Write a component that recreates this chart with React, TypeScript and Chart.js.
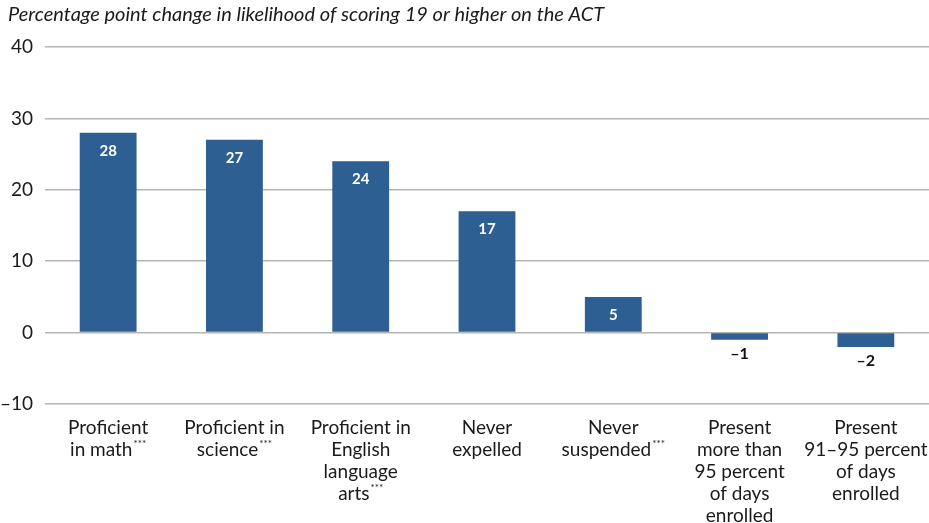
import React, { useEffect, useRef } from "react";
import { Chart, registerables } from "chart.js";

Chart.register(...registerables);

const TITLE = "Percentage point change in likelihood of scoring 19 or higher on the ACT";
const CATEGORY_LINES: string[][] = [
  ["Proficient", "in math"],
  ["Proficient in", "science"],
  ["Proficient in", "English", "language", "arts"],
  ["Never", "expelled"],
  ["Never", "suspended"],
  ["Present", "more than", "95 percent", "of days", "enrolled"],
  ["Present", "91\u201395 percent", "of days", "enrolled"],
];
const SIGNIFICANT: boolean[] = [true, true, true, false, true, false, false];
const VALUES: number[] = [28, 27, 24, 17, 5, -1, -2];
const VALUE_LABELS: string[] = ["28", "27", "24", "17", "5", "\u20131", "\u20132"];
const Y_MIN = -10;
const Y_MAX = 40;
const Y_STEP = 10;

const FONT = "Lato, 'Open Sans', sans-serif";
const BAR_COLOR = "#2e5f93";

const overlayPlugin = {
  id: "overlay",
  afterDatasetsDraw(chart: any) {
    const ctx = chart.ctx as CanvasRenderingContext2D;
    const meta = chart.getDatasetMeta(0);
    ctx.save();
    // value labels
    meta.data.forEach((bar: any, i: number) => {
      const v = VALUES[i];
      ctx.textAlign = "center";
      ctx.textBaseline = "middle";
      if (v >= 0) {
        ctx.font = `bold 15px ${FONT}`;
        ctx.fillStyle = "#ffffff";
        ctx.fillText(VALUE_LABELS[i], bar.x, bar.y + 18);
      } else {
        ctx.font = `bold 16px ${FONT}`;
        ctx.fillStyle = "#111111";
        ctx.fillText(VALUE_LABELS[i], bar.x, bar.y + 14);
      }
    });
    // category labels
    const xScale = chart.scales.x;
    const top = chart.chartArea.bottom + 24;
    const lineH = 22;
    CATEGORY_LINES.forEach((lines, i) => {
      const cx = xScale.getPixelForValue(i);
      lines.forEach((line, j) => {
        const y = top + j * lineH;
        ctx.font = `19px ${FONT}`;
        ctx.fillStyle = "#1a1a1a";
        ctx.textBaseline = "middle";
        const isLast = j === lines.length - 1;
        if (isLast && SIGNIFICANT[i]) {
          const w = ctx.measureText(line).width;
          ctx.font = `10px ${FONT}`;
          const sw = ctx.measureText("***").width;
          const total = w + sw + 1;
          const x0 = cx - total / 2;
          ctx.font = `19px ${FONT}`;
          ctx.textAlign = "left";
          ctx.fillText(line, x0, y);
          ctx.font = `10px ${FONT}`;
          ctx.textBaseline = "top";
          ctx.fillText("***", x0 + w + 1, y - 11);
        } else {
          ctx.textAlign = "center";
          ctx.fillText(line, cx, y);
        }
      });
    });
    // title
    ctx.font = `italic 20px ${FONT}`;
    ctx.fillStyle = "#1a1a1a";
    ctx.textAlign = "left";
    ctx.textBaseline = "middle";
    ctx.fillText(TITLE, 8, 15);
    ctx.restore();
  },
};

export default function App() {
  const ref = useRef<HTMLCanvasElement | null>(null);
  useEffect(() => {
    if (!ref.current) return;
    const chart = new Chart(ref.current, {
      type: "bar",
      data: {
        labels: CATEGORY_LINES.map((l) => l.join(" ")),
        datasets: [
          {
            data: VALUES,
            backgroundColor: BAR_COLOR,
            barPercentage: 0.9,
            categoryPercentage: 0.5,
          },
        ],
      },
      options: {
        animation: false,
        responsive: false,
        layout: { padding: { top: 47, right: 0, left: 0, bottom: 0 } },
        plugins: { legend: { display: false }, tooltip: { enabled: false } },
        scales: {
          x: {
            grid: { display: false, drawTicks: false },
            border: { display: false },
            ticks: { display: false },
            afterFit(scale: any) {
              scale.height = 119;
            },
          },
          y: {
            min: Y_MIN,
            max: Y_MAX,
            ticks: {
              stepSize: Y_STEP,
              color: "#1a1a1a",
              font: { family: FONT, size: 19 },
              padding: 12,
              callback: (v: any) => (Number(v) < 0 ? "\u2013" + Math.abs(Number(v)) : String(v)),
            },
            grid: { color: "#b5b5b5", lineWidth: 1.5, drawTicks: false },
            border: { display: false },
            afterFit(scale: any) {
              scale.width = 45;
            },
          },
        },
      },
      plugins: [overlayPlugin],
    });
    return () => chart.destroy();
  }, []);
  return (
    <div style={{ position: "fixed", left: 0, top: 0, width: 929, height: 523, background: "#fff" }}>
      <canvas ref={ref} width={929} height={523} />
    </div>
  );
}
